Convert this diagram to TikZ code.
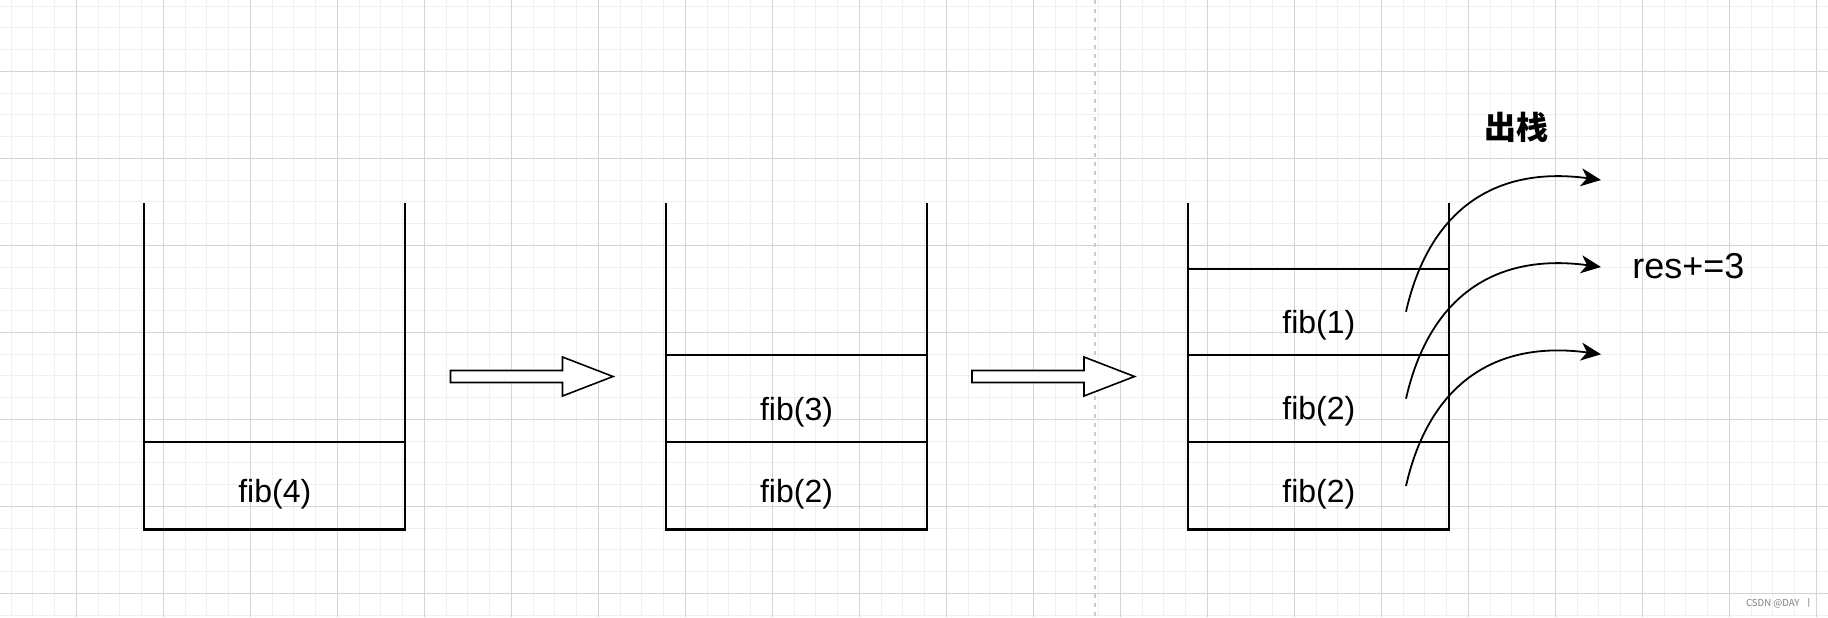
\documentclass[tikz,border=0pt]{standalone}
\usepackage{fontspec}
\setmainfont{Liberation Sans}
\newfontfamily\cjk{Noto Sans CJK SC}
\usetikzlibrary{arrows.meta}
\definecolor{minorgrid}{RGB}{240,240,240}
\definecolor{majorgrid}{RGB}{212,212,212}
\tikzset{frame/.style = {draw,line width=1.05pt}}
\tikzset{cell/.style = {inner sep=0pt,font=\fontsize{16}{16}\selectfont}}
\tikzset{push/.style = {draw,line width=0.8pt,fill=white}}
\tikzset{edge/.style = {-{Stealth[length=10pt,width=9pt,inset=3pt]},line width=0.9pt}}

\begin{document}
\begin{tikzpicture}[x=0.5pt,y=-0.5pt]
		\useasboundingbox (0,0) rectangle (1828,617);
		% grid
		\fill[white] (0,0) rectangle (1828,617);
		\foreach \i in {0,...,83} \draw[minorgrid,line width=0.5pt] ({11.05+21.75*\i},0) -- ++(0,617);
		\foreach \i in {0,...,28} \draw[minorgrid,line width=0.5pt] (0,{6.05+21.75*\i}) -- ++(1828,0);
		\foreach \i in {0,...,20} \draw[majorgrid,line width=0.5pt] ({76.3+87*\i},0) -- ++(0,617);
		\foreach \i in {0,...,6} \draw[majorgrid,line width=0.5pt] (0,{71.3+87*\i}) -- ++(1828,0);
		\draw[majorgrid!90!gray,line width=0.7pt,dash pattern=on 2pt off 2.5pt] (1095,0) -- (1095,617);
		% stacks
		\foreach \sx in {144.3,666,1188.3}
			\draw[frame] (\sx,203.3) |- ({\sx+261},529.5) -- ({\sx+261},203.3);
		\draw[frame] (144.3,442) -- (405.3,442);
		\draw[frame] (666,355.3) -- (927,355.3);
		\draw[frame] (666,442) -- (927,442);
		\foreach \dy in {268.7,355.3,442}
			\draw[frame] (1188.3,\dy) -- (1449.3,\dy);
		% push arrows
		\foreach \ax in {450.5,972}
			\draw[push] (\ax,370.5) -- ({\ax+112},370.5) -- ({\ax+112},357) -- ({\ax+162.5},376.5)
				-- ({\ax+112},396) -- ({\ax+112},382.5) -- (\ax,382.5) -- cycle;
		% vertices
		\node[cell] (a1) at (274.8,494) {fib(4)};
		\node[cell] (b2) at (796.5,412) {fib(3)};
		\node[cell] (b1) at (796.5,494) {fib(2)};
		\node[cell] (c3) at (1318.8,325) {fib(1)};
		\node[cell] (c2) at (1318.8,411.5) {fib(2)};
		\node[cell] (c1) at (1318.8,494) {fib(2)};
		\node[inner sep=0pt,font=\cjk\bfseries\fontsize{16}{16}\selectfont] (pop) at (1516,127) {出栈};
		\node[inner sep=0pt,font=\fontsize{18}{18}\selectfont] (res) at (1688.3,266) {res+=3};
		\node[inner sep=0pt,anchor=east,text=gray,font=\cjk\fontsize{4.8}{5}\selectfont] (mark) at (1814,603) {CSDN @DAY\ \ 丨};
		%edges
		\foreach \k/\dy in {1/0,2/87,3/174.3} {
			\coordinate (s\k) at (1406,{311.7+\dy});
			\coordinate (e\k) at (1601,{180+\dy});
			\draw[edge] (s\k) .. controls +(22,-97) and +(-111,-15) .. (e\k);
		}
	\end{tikzpicture}
\end{document}
